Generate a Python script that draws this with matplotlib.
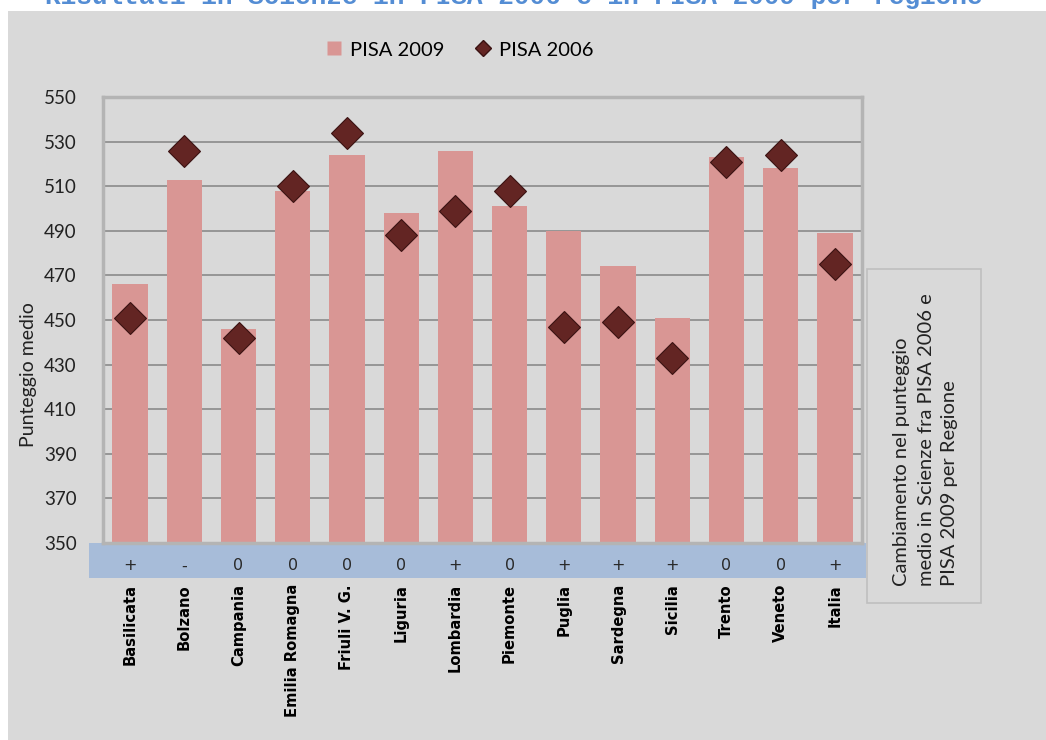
import matplotlib
matplotlib.use('Agg')
import matplotlib.pyplot as plt
from matplotlib.patches import Rectangle
from matplotlib.lines import Line2D
from matplotlib.transforms import blended_transform_factory

# dati
regioni = ["Basilicata", "Bolzano", "Campania", "Emilia Romagna", "Friuli V. G.",
           "Liguria", "Lombardia", "Piemonte", "Puglia", "Sardegna", "Sicilia",
           "Trento", "Veneto", "Italia"]
pisa_2009 = [466, 513, 446, 508, 524, 498, 526, 501, 490, 474, 451, 523, 518, 489]
pisa_2006 = [451, 526, 442, 510, 534, 488, 499, 508, 447, 449, 433, 521, 524, 475]
cambiamento = ["+", "-", "0", "0", "0", "0", "+", "0", "+", "+", "+", "0", "0", "+"]
y_ticks = list(range(350, 551, 20))

W, H = 1046, 740
fig = plt.figure(figsize=(W / 100, H / 100), dpi=100, facecolor='white')

def fx(px):
    return px / W

def fy(py):
    return 1 - py / H

# pannello grigio di sfondo
fig.patches.append(Rectangle((fx(8), 0), 1 - fx(8), fy(11), transform=fig.transFigure,
                             facecolor='#d9d9d9', edgecolor='none', zorder=-2))

# titolo tagliato in alto (come nell'originale)
fig.text(fx(514), fy(4), "Risultati in Scienze in PISA 2006 e in PISA 2009 per regione",
         family='Liberation Mono', weight='bold', fontsize=18.8, color='#548dd4',
         ha='center', va='baseline')

ax = fig.add_axes([fx(103), fy(543), fx(862) - fx(103), (543 - 97) / H])
ax.set_zorder(2)
ax.set_facecolor('#d9d9d9')

x = list(range(len(regioni)))
ax.bar(x, pisa_2009, width=0.65, color='#d99694', zorder=2, label='PISA 2009')
ax.plot(x, pisa_2006, linestyle='none', marker='D', markersize=16.5,
        markerfacecolor='#632523', markeredgecolor='#3a1212', markeredgewidth=0.8,
        zorder=3, label='PISA 2006')

ax.set_xlim(-0.5, len(regioni) - 0.5)
ax.set_ylim(350, 550)
ax.set_yticks(y_ticks)
ax.set_yticklabels([str(v) for v in y_ticks], family='Lato', fontsize=13.5, color='#222222')
ax.tick_params(axis='y', length=0, pad=19)
ax.set_xticks([])
ax.yaxis.grid(True, color='#8a8a8a', linewidth=1.2)
ax.set_axisbelow(True)
for s in ax.spines.values():
    s.set_color('#b4b4b4')
    s.set_linewidth(2.5)

ax.set_ylabel("Punteggio medio", family='Lato', fontsize=14, color='#222222')
ax.yaxis.set_label_coords(fx(37), fy(375), transform=fig.transFigure)

# fascia blu con i segni del cambiamento
fig.patches.append(Rectangle((fx(89), fy(578)), fx(866) - fx(89), (578 - 543) / H,
                             transform=fig.transFigure, facecolor='#a7bcd9',
                             edgecolor='none', zorder=1))
tr = blended_transform_factory(ax.transData, fig.transFigure)
for i, (reg, seg) in enumerate(zip(regioni, cambiamento)):
    ax.text(i, fy(566), seg, transform=tr, ha='center', va='center',
            fontsize=11.5, color='#2a2a2a', clip_on=False)
    ax.text(i, fy(584), reg, transform=tr, ha='center', va='top', rotation=90,
            fontsize=10.6, weight='bold', color='black', clip_on=False)

# legenda
handles = [Line2D([], [], linestyle='none', marker='s', markersize=10,
                  markerfacecolor='#d99694', markeredgecolor='none'),
           Line2D([], [], linestyle='none', marker='D', markersize=8,
                  markerfacecolor='#632523', markeredgecolor='#3a1212')]
fig.legend(handles, ["PISA 2009", "PISA 2006"], loc='center', ncol=2,
           bbox_to_anchor=(fx(460), fy(50)), frameon=False,
           prop={'family': 'Lato', 'size': 14.5}, handlelength=0.8,
           handletextpad=0.4, columnspacing=1.5)

# riquadro di testo a destra
fig.patches.append(Rectangle((fx(867), fy(603)), fx(981) - fx(867), (603 - 269) / H,
                             transform=fig.transFigure, facecolor='none',
                             edgecolor='#bfbfbf', linewidth=1.2, zorder=1))
fig.text(fx(926), fy(586), "Cambiamento nel punteggio\nmedio in Scienze fra PISA 2006 e\nPISA 2009 per Regione",
         family='Lato', fontsize=14.5, rotation=90, ha='center', va='bottom',
         multialignment='left', linespacing=1.5, color='#222222')

fig.savefig('out.png', dpi=100, facecolor=fig.get_facecolor())
